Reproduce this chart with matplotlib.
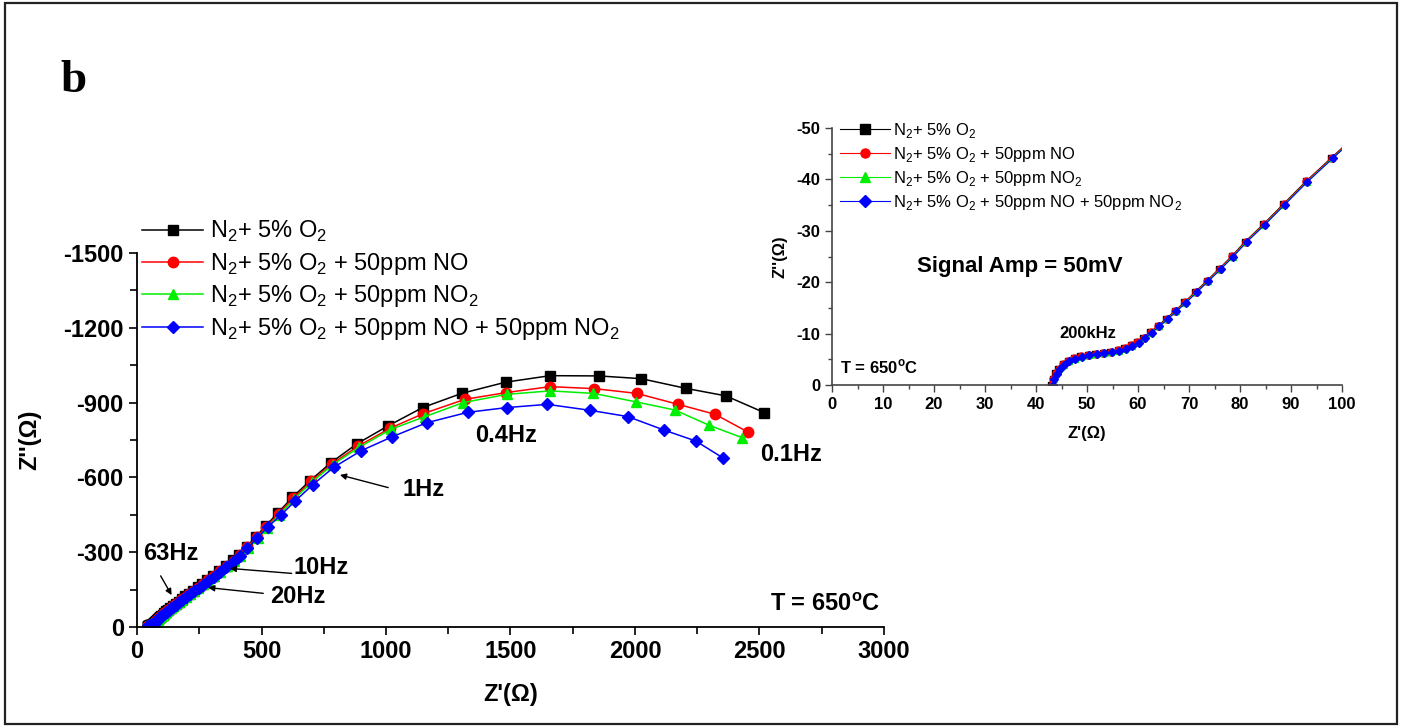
import matplotlib
matplotlib.use('Agg')
import matplotlib.pyplot as plt
from matplotlib.ticker import MultipleLocator
from matplotlib.patches import Rectangle

plt.rcParams['font.family'] = ['Liberation Sans', 'DejaVu Sans']
plt.rcParams['mathtext.fontset'] = 'custom'
plt.rcParams['mathtext.rm'] = 'Liberation Sans'
plt.rcParams['mathtext.bf'] = 'Liberation Sans:bold'
plt.rcParams['axes.unicode_minus'] = False

# Z' (ohm) and Z'' (ohm) for each gas mixture, high -> low frequency
zre_o2 = [43.0, 43.3, 43.8, 44.4, 45.2, 46.2, 47.4, 48.7, 50.1, 51.6, 53.1, 54.6, 56.0, 57.3, 58.6, 59.8,
          61.0, 62.4, 63.9, 65.5, 67.2, 69.1, 71.2, 73.5, 75.9, 78.4, 81.0, 84.6, 88.5, 92.9, 97.9, 103.5,
          110, 117, 125, 134, 144, 155, 167, 180, 194, 209, 225, 243, 262, 283, 306, 331, 358, 387,
          410, 440, 478, 517, 566, 624, 695, 779,
          882, 1007, 1147, 1304, 1481, 1659, 1854, 2025, 2205, 2365, 2519]
zim_o2 = [0, -1.2, -2.3, -3.2, -4.0, -4.7, -5.2, -5.6, -5.9, -6.1, -6.3, -6.5, -6.8, -7.2, -7.7, -8.3,
          -9.2, -10.3, -11.5, -12.9, -14.4, -16.1, -18.1, -20.3, -22.6, -25.1, -27.9, -31.3, -35.2, -39.6, -44.2, -49.3,
          -57, -63, -70, -77, -85, -93, -102, -112, -123, -134, -146, -159, -173, -188, -205, -224, -245, -267,
          -290, -322, -362, -406, -458, -520, -587, -659,
          -734, -806, -880, -937, -982, -1008, -1007, -996, -957, -927, -860]

zre_no = [43.1, 43.4, 43.9, 44.5, 45.3, 46.3, 47.5, 48.8, 50.2, 51.7, 53.2, 54.7, 56.1, 57.4, 58.7, 59.9,
          61.1, 62.5, 64.0, 65.6, 67.3, 69.2, 71.3, 73.6, 76.0, 78.5, 81.1, 84.7, 88.6, 93.0, 98.0, 103.6,
          110, 118, 126, 135, 145, 156, 168, 181, 195, 210, 227, 245, 264, 285, 308, 333, 360, 389,
          412, 442, 481, 520, 569, 628, 699, 784,
          889, 1016, 1150, 1317, 1481, 1659, 1837, 2007, 2173, 2322, 2455]
zim_no = [0, -1.2, -2.3, -3.2, -4.0, -4.7, -5.2, -5.6, -5.9, -6.1, -6.3, -6.5, -6.8, -7.2, -7.7, -8.3,
          -9.2, -10.3, -11.5, -12.9, -14.4, -16.1, -18.1, -20.3, -22.6, -25.1, -27.9, -31.3, -35.2, -39.6, -44.2, -49.3,
          -56, -62, -69, -76, -84, -92, -101, -111, -122, -133, -145, -158, -172, -187, -204, -223, -244, -266,
          -288, -320, -359, -403, -455, -517, -584, -655,
          -726, -797, -856, -913, -940, -964, -956, -937, -893, -853, -781]

zre_no2 = [43.2, 43.5, 44.0, 44.6, 45.4, 46.4, 47.6, 48.9, 50.3, 51.8, 53.3, 54.8, 56.2, 57.5, 58.8, 60.0,
           61.2, 62.6, 64.1, 65.7, 67.4, 69.3, 71.4, 73.7, 76.1, 78.6, 81.2, 84.8, 88.7, 93.1, 98.1, 103.7,
           111, 118, 126, 135, 145, 156, 168, 181, 195, 211, 228, 246, 265, 286, 309, 334, 361, 390,
           413, 444, 484, 523, 572, 631, 701, 786,
           892, 1020, 1157, 1310, 1485, 1659, 1833, 2004, 2161, 2298, 2431]
zim_no2 = [0, -1.1, -2.2, -3.1, -3.9, -4.6, -5.1, -5.5, -5.8, -6.0, -6.2, -6.4, -6.7, -7.1, -7.6, -8.2,
           -9.1, -10.2, -11.4, -12.8, -14.3, -16.0, -18.0, -20.2, -22.5, -25.0, -27.8, -31.2, -35.1, -39.5, -44.1, -49.2,
           -56, -61, -68, -75, -83, -91, -100, -110, -121, -132, -144, -157, -171, -186, -203, -222, -243, -265,
           -286, -318, -356, -399, -451, -513, -580, -651,
           -721, -793, -844, -900, -933, -947, -937, -903, -870, -809, -759]

zre_mix = [43.3, 43.6, 44.1, 44.7, 45.5, 46.5, 47.7, 49.0, 50.4, 51.9, 53.4, 54.9, 56.3, 57.6, 58.9, 60.1,
           61.3, 62.7, 64.2, 65.8, 67.5, 69.4, 71.5, 73.8, 76.2, 78.7, 81.3, 84.9, 88.8, 93.2, 98.2, 103.8,
           111, 119, 127, 136, 146, 157, 169, 182, 196, 212, 229, 247, 266, 287, 310, 335, 358, 385,
           414, 443, 482, 526, 577, 635, 706, 791,
           900, 1025, 1163, 1328, 1485, 1648, 1820, 1971, 2116, 2244, 2355]
zim_mix = [0, -1.1, -2.2, -3.1, -3.9, -4.6, -5.1, -5.5, -5.8, -6.0, -6.2, -6.4, -6.7, -7.1, -7.6, -8.2,
           -9.1, -10.2, -11.4, -12.8, -14.3, -16.0, -18.0, -20.2, -22.5, -25.0, -27.8, -31.2, -35.1, -39.5, -44.1, -49.2,
           -56, -61, -68, -75, -82, -90, -99, -109, -120, -131, -143, -156, -170, -185, -202, -221, -242, -262,
           -284, -316, -356, -402, -448, -505, -571, -641,
           -707, -763, -819, -861, -880, -893, -869, -844, -790, -746, -677]

labels = [r'N$_\mathregular{2}$+ 5% O$_\mathregular{2}$',
          r'N$_\mathregular{2}$+ 5% O$_\mathregular{2}$ + 50ppm NO',
          r'N$_\mathregular{2}$+ 5% O$_\mathregular{2}$ + 50ppm NO$_\mathregular{2}$',
          r'N$_\mathregular{2}$+ 5% O$_\mathregular{2}$ + 50ppm NO + 50ppm NO$_\mathregular{2}$']
colors = ['#000000', '#ff0000', '#00ee00', '#0000ff']
markers = ['s', 'o', '^', 'D']
series = [(zre_o2, zim_o2), (zre_no, zim_no), (zre_no2, zim_no2), (zre_mix, zim_mix)]

W, H = 1406, 727
fig = plt.figure(figsize=(W / 100, H / 100), dpi=100)

def fx(px):
    return px / W

def fy(py):
    return 1 - py / H

# main Nyquist plot
ax = fig.add_axes([fx(137), fy(627), fx(884) - fx(137), fy(253) - fy(627)])
for (x, y), c, m, lab in zip(series, colors, markers, labels):
    ms = 6.5 if m == 'D' else 7.5
    ax.plot(x, y, color=c, marker=m, ms=ms, mec=c, lw=1.1, label=lab)
ax.set_xlim(0, 3000)
ax.set_ylim(0, -1500)
ax.xaxis.set_major_locator(MultipleLocator(500))
ax.xaxis.set_minor_locator(MultipleLocator(250))
ax.yaxis.set_major_locator(MultipleLocator(300))
ax.yaxis.set_minor_locator(MultipleLocator(150))
for s in ['top', 'right']:
    ax.spines[s].set_visible(False)
for s in ['left', 'bottom']:
    ax.spines[s].set_linewidth(1.3)
ax.tick_params(which='both', direction='out', width=1.2, labelsize=17)
ax.tick_params(which='major', length=6)
ax.tick_params(which='minor', length=5)
for t in ax.get_xticklabels() + ax.get_yticklabels():
    t.set_fontweight('bold')
ax.set_xlabel("Z'(\u03a9)", fontsize=17, fontweight='bold', labelpad=14)
ax.set_ylabel("Z''(\u03a9)", fontsize=17, fontweight='bold', labelpad=16)
ax.legend(loc='upper left', bbox_to_anchor=(fx(142), fy(219)), bbox_transform=fig.transFigure,
          frameon=False, fontsize=17, handlelength=2.6, handletextpad=0.3, labelspacing=0.28,
          borderpad=0, borderaxespad=0)

bold = dict(fontsize=17, fontweight='bold')
ax.text(1357, -770, '0.4Hz', va='center', **bold)
ax.text(2502, -690, '0.1Hz', va='center', **bold)
ax.text(1068, -550, '1Hz', va='center', **bold)
ax.text(627, -237, '10Hz', va='center', **bold)
ax.text(534, -122, '20Hz', va='center', **bold)
ax.text(24, -296, '63Hz', va='center', **bold)
ax.text(2984, -92, r'T = 650$^\mathregular{o}$C', ha='right', va='center', **bold)
arrow = dict(arrowstyle='-|>', color='k', lw=1.0, mutation_scale=9, shrinkA=0, shrinkB=0)
ax.annotate('', xy=(815, -610), xytext=(1009, -559), arrowprops=arrow)
ax.annotate('', xy=(373, -235), xytext=(621, -215), arrowprops=arrow)
ax.annotate('', xy=(286, -158), xytext=(507, -135), arrowprops=arrow)
ax.annotate('', xy=(139, -128), xytext=(95, -205), arrowprops=arrow)

# inset: high frequency part
ins = fig.add_axes([fx(832), fy(385), fx(1342) - fx(832), fy(128) - fy(385)])
ins.patch.set_alpha(0)
for (x, y), c, m in zip(series, colors, markers):
    ms = 4.5 if m == 'D' else 5
    ins.plot(x, y, color=c, marker=m, ms=ms, mec=c, lw=0.8)
ins.set_xlim(0, 100)
ins.set_ylim(0, -50)
ins.xaxis.set_major_locator(MultipleLocator(10))
ins.xaxis.set_minor_locator(MultipleLocator(5))
ins.yaxis.set_major_locator(MultipleLocator(10))
ins.yaxis.set_minor_locator(MultipleLocator(5))
for s in ['top', 'right']:
    ins.spines[s].set_visible(False)
for s in ['left', 'bottom']:
    ins.spines[s].set_color('#444444')
    ins.spines[s].set_linewidth(1.2)
ins.tick_params(which='both', direction='out', color='#444444', width=1.0, labelsize=12)
ins.tick_params(which='major', length=5)
ins.tick_params(which='minor', length=3)
for t in ins.get_xticklabels() + ins.get_yticklabels():
    t.set_fontweight('bold')
ins.set_xlabel("Z'(\u03a9)", fontsize=12, fontweight='bold', labelpad=10)
ins.set_ylabel("Z''(\u03a9)", fontsize=12, fontweight='bold', labelpad=6)
leg = ins.legend(labels, loc='upper left', bbox_to_anchor=(fx(840), fy(121)), bbox_transform=fig.transFigure,
                 frameon=False, fontsize=12, handlelength=3.0, handletextpad=0.2, labelspacing=0.3,
                 borderpad=0, borderaxespad=0, markerscale=1.3)
ins.text(16.6, -23, 'Signal Amp = 50mV', va='center', fontsize=16, fontweight='bold')
ins.text(44.5, -10.1, '200kHz', va='center', fontsize=12, fontweight='bold')
ins.text(1.5, -3.5, r'T = 650$^\mathregular{o}$C', va='center', fontsize=12, fontweight='bold')

# panel letter and frame
fig.text(fx(60), fy(92), 'b', fontsize=34, fontweight='bold', family='Liberation Serif')
fig.patches.append(Rectangle((fx(5), fy(724)), fx(1397) - fx(5), fy(3) - fy(724), transform=fig.transFigure,
                             fill=False, edgecolor='#222222', lw=1.6))

fig.savefig('out.png', dpi=100)
